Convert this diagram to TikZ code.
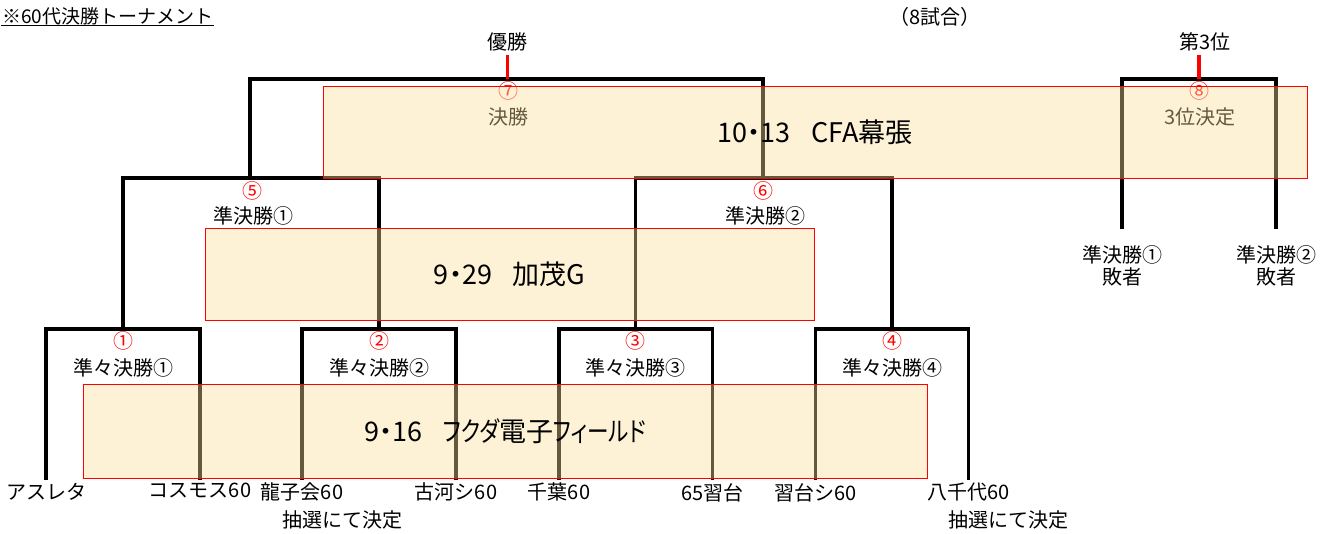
\documentclass[tikz,border=0pt]{standalone}
\usepackage{fontspec}
\setmainfont{Noto Sans CJK JP}
\newfontfamily\venuefont[RawFeature=+palt]{Noto Sans CJK JP}
\usepackage{tikz}
\usetikzlibrary{calc}
\definecolor{venuefill}{RGB}{250,222,153}
\newcommand{\narrowkana}[1]{{\addfontfeature{FakeStretch=0.8}#1}}

\begin{document}
\begin{tikzpicture}[x=1pt, y=-1pt,
    bracket/.style={line width=3.1pt},
    win line/.style={red, line width=3.1pt},
    label text/.style={font=\fontsize{20}{22}\selectfont},
    team/.style={label text, inner sep=3pt, anchor=north},
    loser/.style={label text, align=center, inner xsep=2pt, inner ysep=16pt, anchor=north},
    match no/.style={label text, red},
    venue/.style={draw=red, line width=0.9pt, fill=venuefill, fill opacity=0.4,
        draw opacity=1, text opacity=1, font=\venuefont\fontsize{27}{32}\selectfont},
    ]
\useasboundingbox (0,0) rectangle (1323,534);

%% match points
\coordinate (m1) at (123,329);
\coordinate (m2) at (379,329);
\coordinate (m3) at (635.5,329);
\coordinate (m4) at (892,329);
\coordinate (m5) at (250,178);
\coordinate (m6) at (763,178);
\coordinate (m7) at (507.5,79);
\coordinate (m8) at (1199,79);

%% title
\node[label text, font=\fontsize{19}{22}\selectfont, anchor=west, inner sep=1pt] (title) at (1,16) {※60代決勝トーナメント};
\draw[line width=1pt] (title.south west) -- (title.south east);
\node[label text] (games) at (935,17) {（8試合）};

%% teams
\node[team] (t1) at (46,480) {アスレタ};
\node[team] (t2) at (200,480) {コスモス60};
\node[team] (t3) at (302,480) {龍子会60};
\node[team] (t4) at (456,480) {古河シ60};
\node[team] (t5) at (559,480) {千葉60};
\node[team] (t6) at (712.5,480) {65習台};
\node[team] (t7) at (815.5,480) {習台シ60};
\node[team] (t8) at (968.5,480) {八千代60};
\node[label text] (lot1) at (342,520) {抽選にて決定};
\node[label text] (lot2) at (1008,520) {抽選にて決定};

\node[loser] (l1) at (1122,229) {準決勝①\\敗者};
\node[loser] (l2) at (1276,229) {準決勝②\\敗者};

%% draw brackets
\draw[bracket] (t1.north) |- (m1) -| (t2.north);
\draw[bracket] (t3.north) |- (m2) -| (t4.north);
\draw[bracket] (t5.north) |- (m3) -| (t6.north);
\draw[bracket] (t7.north) |- (m4) -| (t8.north);
\draw[bracket] (m1) |- (m5) -| (m2);
\draw[bracket] (m3) |- (m6) -| (m4);
\draw[bracket] (m5) |- (m7) -| (m6);
\draw[bracket] (l1.north) |- (m8) -| (l2.north);

%% winners
\node[label text] (champ) at (507.5,42) {優勝};
\node[label text] (third) at (1205,42) {第3位};
\draw[win line] (champ.south) -- (m7);
\draw[win line] (third.south -| m8) -- (m8);

%% match labels
\node[match no] (n1) at (123,341) {①};
\node[label text] (r1) at (123,368) {準々決勝①};
\node[match no] (n2) at (379,341) {②};
\node[label text] (r2) at (379,368) {準々決勝②};
\node[match no] (n3) at (635.5,341) {③};
\node[label text] (r3) at (635.5,368) {準々決勝③};
\node[match no] (n4) at (892,341) {④};
\node[label text] (r4) at (892,368) {準々決勝④};
\node[match no] (n5) at (252,191) {⑤};
\node[label text] (r5) at (253,216) {準決勝①};
\node[match no] (n6) at (763,191) {⑥};
\node[label text] (r6) at (765,216) {準決勝②};
\node[match no] (n7) at (508,91) {⑦};
\node[label text] (r7) at (508,117) {決勝};
\node[match no] (n8) at (1199,91) {⑧};
\node[label text] (r8) at (1200,117) {3位決定};

%% venues
\node[venue, minimum width=984, minimum height=92] (vfinal) at (815,132) {10・13\hspace{0.75em}CFA幕張};
\node[venue, minimum width=609, minimum height=92] (vsemi) at (509.5,274) {9・29\hspace{0.75em}加茂G};
\node[venue, minimum width=844, minimum height=94] (vquarter) at (505,431) {9・16\hspace{0.75em}\narrowkana{フクダ}電子\narrowkana{フィールド}};

\end{tikzpicture}
\end{document}
